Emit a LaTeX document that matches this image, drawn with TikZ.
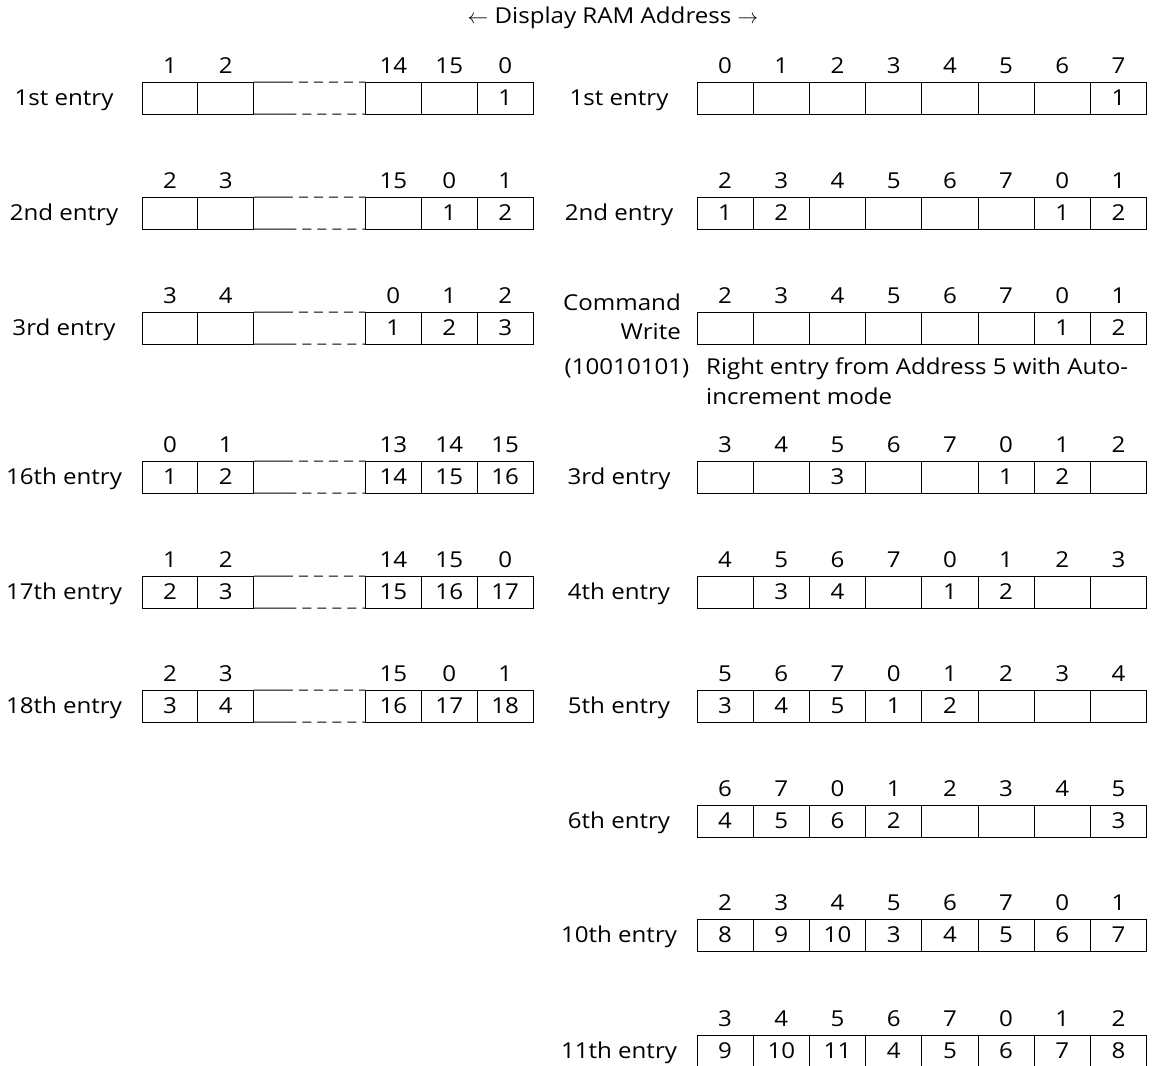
\documentclass[tikz,border=0pt]{standalone}
\usepackage{fontspec}
\setmainfont[FakeStretch=1.1]{Open Sans}
\usetikzlibrary{calc}
\tikzset{
  cell/.style={draw, line width=1bp, minimum width=55.9bp, minimum height=32bp, inner sep=0pt, outer sep=0pt, font=\fontsize{22}{25}\selectfont},
  rcell/.style={cell, minimum width=56.2bp},
  gapcell/.style={minimum width=111.6bp, minimum height=32bp, inner sep=0pt, outer sep=0pt},
  addr/.style={anchor=base, inner sep=0pt, font=\fontsize{22}{25}\selectfont},
  lbl/.style={anchor=base, inner sep=0pt, font=\fontsize{22}{25}\selectfont},
  txt/.style={inner sep=0pt, font=\fontsize{22}{25}\selectfont},
  gapline/.style={line width=1bp},
  gapdash/.style={line width=1bp, dash pattern=on 9bp off 6bp}
}
\newcommand\leftrow[4]{%
  \node[lbl] (#1-lbl) at (64,#3+23) {#2};
  \foreach \a/\c [count=\i] in {#4} {
    \ifnum\i<3 \pgfmathsetmacro\xx{142+(\i-0.5)*55.9}\else\pgfmathsetmacro\xx{365.4+(\i-2.5)*55.9}\fi
    \node[cell] (#1-\i) at (\xx,#3+16) {\c};
    \node[addr] (#1-a\i) at (\xx,#3-8.5) {\a};
  }
  \node[gapcell] (#1-g) at (309.6,#3+16) {};
  \coordinate (#1-gt) at ($(#1-g.north west)!0.27!(#1-g.north east)$);
  \coordinate (#1-gb) at ($(#1-g.south west)!0.30!(#1-g.south east)$);
  \draw[gapline] (#1-g.north west) -- (#1-gt);
  \draw[gapdash] (#1-gt) -- (#1-g.north east);
  \draw[gapline] (#1-g.south west) -- (#1-gb);
  \draw[gapdash] (#1-gb) -- (#1-g.south east);
}
\newcommand\rightrow[4]{%
  \ifx\relax#2\relax\else\node[lbl] (#1-lbl) at (619,#3+23) {#2};\fi
  \foreach \a/\c [count=\i] in {#4} {
    \pgfmathsetmacro\xx{697+(\i-0.5)*56.2}
    \node[rcell] (#1-\i) at (\xx,#3+16) {\c};
    \node[addr] (#1-a\i) at (\xx,#3-8.5) {\a};
  }
}
\begin{document}
\begin{tikzpicture}[x=1bp,y=-1bp]
\useasboundingbox (0,0) rectangle (1156,1066);
\node[txt] (title) at (613,18) {$\leftarrow$ Display RAM Address $\rightarrow$};
% left column
\leftrow{La}{1st entry}{82}{1/{},2/{},14/{},15/{},0/1}
\leftrow{Lb}{2nd entry}{197}{2/{},3/{},15/{},0/1,1/2}
\leftrow{Lc}{3rd entry}{312}{3/{},4/{},0/1,1/2,2/3}
\leftrow{Ld}{16th entry}{461}{0/1,1/2,13/14,14/15,15/16}
\leftrow{Le}{17th entry}{576}{1/2,2/3,14/15,15/16,0/17}
\leftrow{Lf}{18th entry}{690}{2/3,3/4,15/16,0/17,1/18}
% right column
\rightrow{Ra}{1st entry}{82}{0/{},1/{},2/{},3/{},4/{},5/{},6/{},7/1}
\rightrow{Rb}{2nd entry}{197}{2/1,3/2,4/{},5/{},6/{},7/{},0/1,1/2}
\rightrow{Rc}{}{312}{2/{},3/{},4/{},5/{},6/{},7/{},0/1,1/2}
\node[txt, anchor=base east] (cmd1) at (681,310) {Command};
\node[txt, anchor=base east] (cmd2) at (681,339) {Write};
\node[txt, anchor=base] (cmd3) at (627,374) {(10010101)};
\node[txt, anchor=base west] (note1) at (706,374) {Right entry from Address 5 with Auto-};
\node[txt, anchor=base west] (note2) at (706,404) {increment mode};
\rightrow{Rd}{3rd entry}{461}{3/{},4/{},5/3,6/{},7/{},0/1,1/2,2/{}}
\rightrow{Re}{4th entry}{576}{4/{},5/3,6/4,7/{},0/1,1/2,2/{},3/{}}
\rightrow{Rf}{5th entry}{690}{5/3,6/4,7/5,0/1,1/2,2/{},3/{},4/{}}
\rightrow{Rg}{6th entry}{805}{6/4,7/5,0/6,1/2,2/{},3/{},4/{},5/3}
\rightrow{Rh}{10th entry}{919}{2/8,3/9,4/10,5/3,6/4,7/5,0/6,1/7}
\rightrow{Ri}{11th entry}{1035}{3/9,4/10,5/11,6/4,7/5,0/6,1/7,2/8}
\end{tikzpicture}
\end{document}
